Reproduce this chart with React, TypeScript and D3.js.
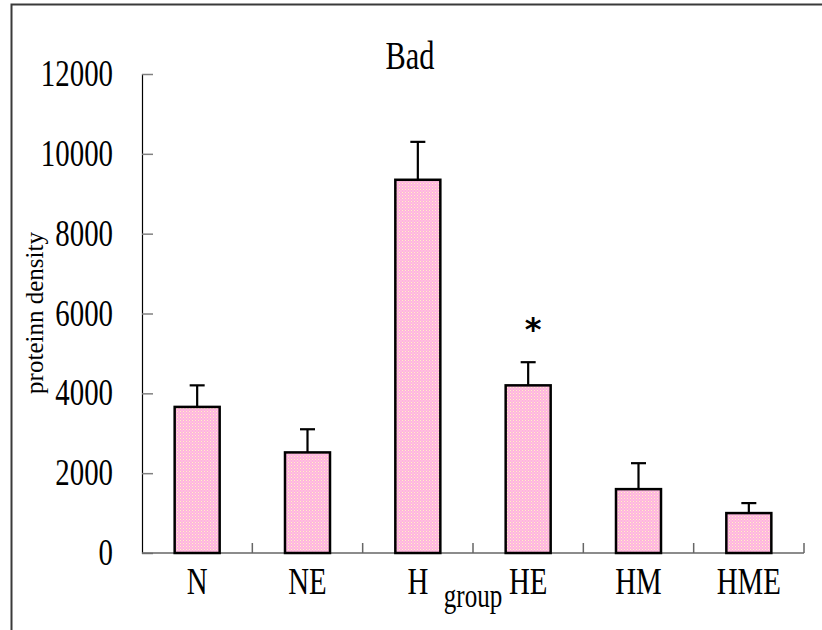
import React, { useEffect, useRef } from 'react';
import * as d3 from 'd3';

// chart data
const groups = ['N', 'NE', 'H', 'HE', 'HM', 'HME'];
const density = [3660, 2520, 9350, 4200, 1600, 1000];
const errUp = [540, 580, 950, 580, 650, 250];
const starred = ['HE'];
const yTicks = [0, 2000, 4000, 6000, 8000, 10000, 12000];

const W = 822;
const H = 630;
const serif = '"Liberation Serif", "DejaVu Serif", serif';
const squeeze = 0.76; // the original font is a tall, narrow serif

const App = () => {
    const svgRef = useRef<SVGSVGElement>(null);

    useEffect(() => {
        const svg = d3.select(svgRef.current);
        svg.selectAll('*').remove();

        const x = d3.scaleBand().domain(groups).range([142, 804]).paddingInner(0).paddingOuter(0);
        const y = d3.scaleLinear().domain([0, 12000]).range([553, 74]);
        const barW = 45;
        const mid = (g: string) => (x(g) as number) + x.bandwidth() / 2;

        // pink dotted fill
        const defs = svg.append('defs');
        const pat = defs
            .append('pattern')
            .attr('id', 'dots')
            .attr('patternUnits', 'userSpaceOnUse')
            .attr('width', 3)
            .attr('height', 3);
        pat.append('rect').attr('width', 3).attr('height', 3).attr('fill', '#ffb4dc');
        pat.append('rect').attr('width', 1).attr('height', 1).attr('fill', '#fff4c8');
        pat.append('rect').attr('x', 1.5).attr('y', 1.5).attr('width', 1).attr('height', 1).attr('fill', '#ffdcee');

        // outer frame
        svg.append('rect')
            .attr('x', 11.5)
            .attr('y', 4.5)
            .attr('width', 900)
            .attr('height', 700)
            .attr('fill', 'none')
            .attr('stroke', '#3a3a3a')
            .attr('stroke-width', 2);

        // title
        svg.append('text')
            .attr('transform', `translate(410,69) scale(${squeeze},1)`)
            .attr('text-anchor', 'middle')
            .attr('font-family', serif)
            .attr('font-size', 40)
            .text('Bad');

        // y axis
        const yAxis = d3.axisRight(y).tickValues(yTicks).tickSize(11).tickFormat(() => '');
        const gy = svg.append('g').attr('transform', 'translate(142,0)').call(yAxis);
        gy.select('.domain').attr('stroke', '#000').attr('stroke-width', 1.2);
        gy.selectAll('.tick line').attr('stroke', '#808080').attr('stroke-width', 1.5);

        svg.append('g')
            .selectAll('text')
            .data(yTicks)
            .join('text')
            .attr('transform', (d) => `translate(113,${y(d) + 12}) scale(${squeeze},1)`)
            .attr('text-anchor', 'end')
            .attr('font-family', serif)
            .attr('font-size', 38)
            .text((d) => d);

        svg.append('text')
            .attr('transform', 'translate(43,313) rotate(-90)')
            .attr('text-anchor', 'middle')
            .attr('font-family', serif)
            .attr('font-size', 25)
            .text('proteinn density');

        // x axis
        const bounds = groups.map((g) => (x(g) as number) + x.bandwidth());
        svg.append('line')
            .attr('x1', 142)
            .attr('x2', 804)
            .attr('y1', y(0))
            .attr('y2', y(0))
            .attr('stroke', '#666')
            .attr('stroke-width', 1.5);
        svg.append('g')
            .selectAll('line')
            .data(bounds)
            .join('line')
            .attr('x1', (d) => d)
            .attr('x2', (d) => d)
            .attr('y1', y(0))
            .attr('y2', y(0) - 10)
            .attr('stroke', '#666')
            .attr('stroke-width', 1.5);

        svg.append('g')
            .selectAll('text')
            .data(groups)
            .join('text')
            .attr('transform', (d) => `translate(${mid(d)},594) scale(${squeeze},1)`)
            .attr('text-anchor', 'middle')
            .attr('font-family', serif)
            .attr('font-size', 38)
            .text((d) => d);

        svg.append('text')
            .attr('transform', `translate(473,607) scale(${squeeze},1)`)
            .attr('text-anchor', 'middle')
            .attr('font-family', serif)
            .attr('font-size', 33)
            .text('group');

        // error bars
        const eb = svg.append('g').attr('stroke', '#000').attr('stroke-width', 2.2);
        groups.forEach((g, i) => {
            const cx = mid(g);
            eb.append('line')
                .attr('x1', cx)
                .attr('x2', cx)
                .attr('y1', y(density[i]))
                .attr('y2', y(density[i] + errUp[i]));
            eb.append('line')
                .attr('x1', cx - 7.5)
                .attr('x2', cx + 7.5)
                .attr('y1', y(density[i] + errUp[i]))
                .attr('y2', y(density[i] + errUp[i]));
        });

        // bars
        svg.append('g')
            .selectAll('rect')
            .data(groups)
            .join('rect')
            .attr('x', (d) => mid(d) - barW / 2)
            .attr('y', (d, i) => y(density[i]))
            .attr('width', barW)
            .attr('height', (d, i) => y(0) - y(density[i]))
            .attr('fill', 'url(#dots)')
            .attr('stroke', '#000')
            .attr('stroke-width', 2.5);

        // significance marks
        svg.append('g')
            .selectAll('text')
            .data(starred)
            .join('text')
            .attr('x', (d) => mid(d) + 5)
            .attr('y', (d) => y(density[groups.indexOf(d)] + errUp[groups.indexOf(d)]) - 22)
            .attr('text-anchor', 'middle')
            .attr('font-family', '"DejaVu Sans", sans-serif')
            .attr('font-weight', 'bold')
            .attr('font-size', 32)
            .text('*');
    }, []);

    return (
        <svg
            ref={svgRef}
            width={W}
            height={H}
            style={{ position: 'absolute', left: 0, top: 0, background: '#fff' }}
        />
    );
};

export default App;
